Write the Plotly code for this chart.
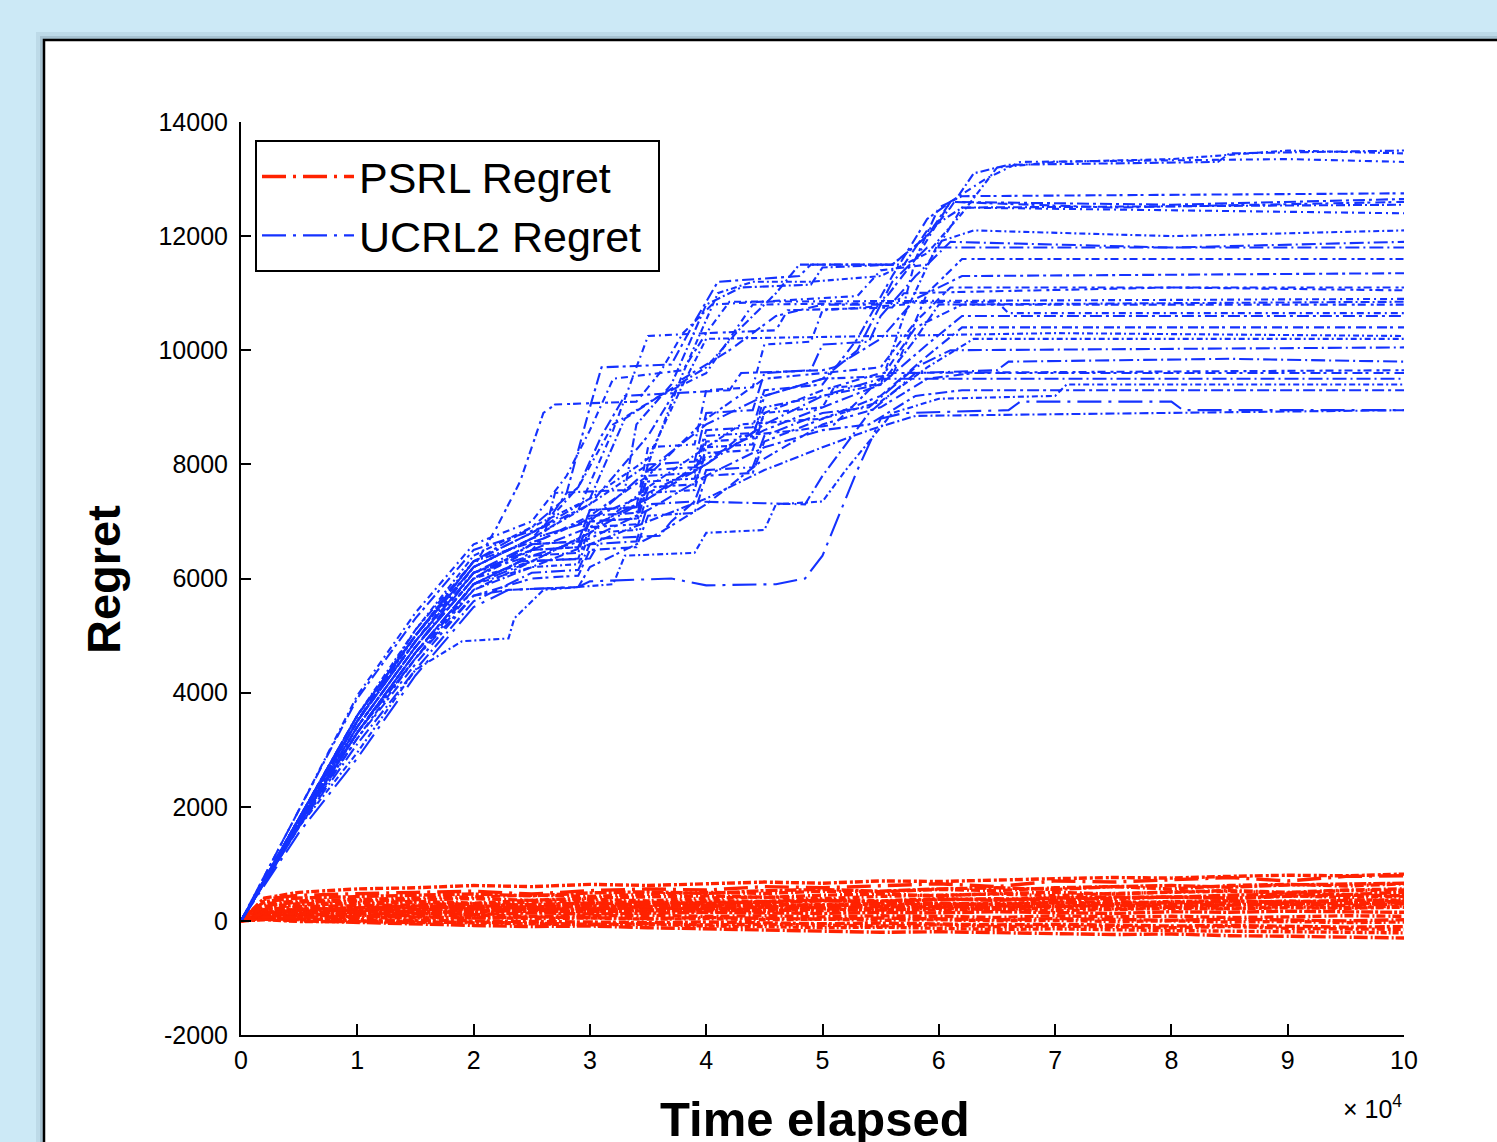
import plotly.graph_objects as go

# ---------------- data (time in units of 10^4 steps, regret) ----------------
X_TICKS = [0, 1, 2, 3, 4, 5, 6, 7, 8, 9, 10]
Y_TICKS = [-2000, 0, 2000, 4000, 6000, 8000, 10000, 12000, 14000]

PSRL_T = [0, 0.2, 0.5, 1, 1.5, 2, 2.5, 3, 3.5, 4, 4.5, 5, 5.5, 6, 6.5, 7, 7.5, 8, 8.5, 9, 9.5, 10]
PSRL_R01 = [0, 380, 450, 480, 500, 520, 470, 530, 560, 540, 600, 580, 620, 650, 600, 700, 680, 720, 760, 700, 780, 790]
PSRL_R02 = [0, 300, 350, 380, 400, 420, 450, 430, 470, 500, 480, 520, 510, 550, 530, 580, 600, 560, 620, 640, 610, 650]
PSRL_R03 = [0, 250, 300, 320, 340, 310, 360, 380, 350, 400, 420, 390, 430, 450, 470, 440, 480, 500, 520, 490, 530, 540]
PSRL_R04 = [0, 200, 250, 260, 280, 300, 270, 310, 330, 300, 340, 360, 330, 370, 390, 360, 400, 420, 390, 430, 450, 440]
PSRL_R05 = [0, 180, 200, 220, 240, 230, 250, 260, 240, 280, 270, 290, 300, 280, 310, 330, 300, 340, 350, 320, 360, 370]
PSRL_R06 = [0, 150, 170, 180, 190, 210, 200, 220, 230, 210, 240, 230, 250, 240, 260, 250, 270, 260, 280, 290, 270, 300]
PSRL_R07 = [0, 130, 140, 150, 160, 150, 170, 160, 180, 170, 190, 180, 200, 190, 210, 180, 200, 220, 210, 230, 220, 240]
PSRL_R08 = [0, 100, 110, 120, 130, 110, 140, 120, 130, 150, 140, 130, 150, 140, 160, 150, 130, 160, 150, 170, 160, 150]
PSRL_R09 = [0, 80, 90, 100, 90, 100, 80, 90, 100, 80, 90, 70, 90, 80, 60, 90, 70, 80, 60, 70, 90, 80]
PSRL_R10 = [0, 60, 70, 60, 50, 60, 40, 50, 30, 40, 20, 30, 10, 20, 0, 10, -10, 0, -20, -10, -30, -20]
PSRL_R11 = [0, 40, 30, 20, 10, 0, -10, -20, -30, -20, -40, -50, -40, -60, -70, -60, -80, -90, -80, -100, -110, -100]
PSRL_R12 = [0, 50, 20, 0, -20, -40, -50, -70, -60, -90, -100, -120, -110, -130, -150, -140, -160, -170, -180, -190, -200, -210]
PSRL_R13 = [0, 30, 0, -30, -50, -80, -100, -90, -120, -140, -160, -180, -200, -190, -210, -220, -240, -230, -260, -270, -280, -300]
PSRL_R14 = [0, 400, 500, 560, 580, 620, 600, 640, 620, 650, 680, 660, 700, 690, 720, 740, 760, 750, 780, 800, 790, 820]
PSRL_R15 = [0, 120, 200, 230, 260, 250, 290, 310, 280, 330, 320, 350, 340, 380, 360, 400, 420, 410, 450, 470, 460, 500]
PSRL_R16 = [0, 90, 150, 170, 160, 180, 170, 200, 190, 220, 200, 230, 220, 250, 230, 270, 260, 290, 280, 310, 300, 320]
PSRL_R17 = [0, 220, 280, 300, 320, 290, 330, 350, 320, 360, 340, 380, 350, 390, 370, 410, 380, 420, 400, 440, 410, 430]
PSRL_R18 = [0, 160, 210, 200, 230, 250, 220, 260, 280, 250, 290, 270, 300, 310, 290, 320, 340, 310, 350, 330, 360, 350]
PSRL_R19 = [0, 110, 130, 160, 140, 170, 190, 160, 180, 200, 170, 210, 190, 220, 200, 230, 210, 240, 220, 250, 230, 260]
PSRL_R20 = [0, 70, 60, 80, 70, 50, 70, 60, 40, 60, 50, 30, 50, 40, 20, 40, 30, 10, 30, 20, 0, 20]
PSRL_R21 = [0, 20, -10, -10, -30, -20, -40, -60, -50, -70, -60, -80, -90, -70, -100, -90, -110, -120, -100, -130, -140, -150]
PSRL_R22 = [0, 340, 400, 430, 450, 470, 440, 490, 510, 480, 530, 550, 520, 560, 580, 550, 600, 620, 590, 630, 650, 660]
PSRL_R23 = [0, 270, 330, 350, 370, 390, 360, 400, 420, 440, 410, 450, 470, 440, 480, 500, 470, 510, 530, 500, 540, 560]
PSRL_R24 = [0, 140, 180, 210, 190, 220, 240, 210, 250, 270, 240, 280, 260, 300, 280, 320, 290, 330, 310, 350, 320, 340]

UCRL2_R01 = [(0, 0), (0.5, 1550), (1, 2850), (1.5, 4300), (2, 5500), (2.3, 5800), (2.9, 5850), (3.0, 5950), (3.7, 6000), (4.0, 5880), (4.6, 5900), (4.85, 6000), (5.0, 6400), (5.3, 7900), (5.5, 8800), (5.7, 8900), (6.6, 8950), (6.7, 9100), (8, 9100), (8.1, 8950), (10, 8950)]
UCRL2_R02 = [(0, 0), (0.5, 1650), (1, 2950), (1.5, 4400), (1.9, 4900), (2.3, 4950), (2.35, 5300), (2.6, 5800), (3.2, 5900), (3.3, 6400), (3.9, 6450), (4.0, 6800), (4.5, 6850), (4.6, 7300), (5.0, 7350), (5.2, 7900), (5.6, 8900), (6, 9150), (7, 9200), (7.1, 9400), (10, 9400)]
UCRL2_R03 = [(0, 0), (0.5, 1750), (1, 3300), (1.5, 4700), (2, 5900), (2.4, 6300), (3, 6350), (3.1, 6700), (3.6, 6750), (3.7, 7000), (3.9, 7350), (4.85, 7300), (5.0, 7800), (5.4, 8900), (5.8, 9600), (6.5, 9650), (6.6, 9800), (8.5, 9850), (10, 9800)]
UCRL2_R04 = [(0, 0), (0.5, 1800), (1, 3600), (1.5, 5000), (2, 6200), (2.2, 6900), (2.4, 7700), (2.6, 8900), (2.7, 9050), (3.4, 9100), (3.6, 9600), (3.8, 9650), (4, 10300), (4.6, 10350), (4.7, 10700), (5.6, 10750), (5.7, 11000), (8, 11100), (10, 11050)]
UCRL2_R05 = [(0, 0), (0.5, 1950), (1, 3900), (1.5, 5300), (2, 6500), (2.6, 6900), (2.8, 7500), (3.0, 9000), (3.1, 9700), (3.7, 9750), (3.9, 10500), (4.1, 11200), (4.8, 11300), (4.9, 11500), (5.6, 11500), (5.9, 12000), (6.1, 12600), (8, 12550), (10, 12650)]
UCRL2_R06 = [(0, 0), (0.5, 1800), (1, 3500), (1.5, 5100), (2, 6300), (2.6, 6700), (2.7, 7500), (3.3, 7550), (3.4, 8700), (3.7, 9400), (4.0, 10800), (4.3, 11100), (4.9, 11150), (5.0, 11450), (5.6, 11500), (5.9, 12000), (6.1, 12500), (6.3, 13100), (6.6, 13250), (8.4, 13300), (8.5, 13450), (10, 13500)]
UCRL2_R07 = [(0, 0), (0.5, 1700), (1, 3400), (1.5, 4800), (2, 6000), (2.5, 6600), (2.9, 6650), (3, 7200), (3.4, 7250), (3.5, 8300), (3.9, 8350), (4, 9300), (4.4, 9350), (4.5, 10100), (4.9, 10150), (5, 10700), (5.7, 10800), (5.8, 11600), (6.1, 12600), (6.4, 13000), (6.7, 13300), (9, 13350), (10, 13300)]
UCRL2_R08 = [(0, 0), (0.5, 1800), (1, 3500), (1.5, 4900), (2, 6100), (2.5, 6500), (2.9, 6550), (3, 7000), (3.4, 7050), (3.5, 7900), (3.9, 7950), (4, 8600), (4.4, 8650), (4.5, 9300), (5, 9400), (5.3, 10200), (5.6, 11300), (5.9, 12300), (6.1, 12600), (7.5, 12500), (10, 12600)]
UCRL2_R09 = [(0, 0), (0.5, 1700), (1, 3300), (1.5, 4700), (2, 5900), (2.5, 6200), (2.9, 6250), (3, 6800), (3.4, 6850), (3.5, 7500), (3.9, 7550), (4, 8300), (4.4, 8350), (4.5, 8900), (5, 9000), (5.1, 9350), (5.5, 9400), (5.7, 10600), (6.0, 11900), (6.3, 12100), (8, 12000), (10, 12100)]
UCRL2_R10 = [(0, 0), (0.5, 1750), (1, 3400), (1.5, 4800), (2, 6100), (2.5, 6600), (2.9, 6650), (3, 7200), (3.4, 7250), (3.5, 8000), (3.9, 8050), (4, 8900), (4.4, 8950), (4.5, 9600), (4.9, 9650), (5, 10100), (5.4, 10150), (5.5, 10600), (5.8, 11300), (6.1, 11900), (8, 11800), (10, 11900)]
UCRL2_R11 = [(0, 0), (0.5, 1650), (1, 3200), (1.5, 4600), (2, 5800), (2.5, 6300), (2.9, 6350), (3, 6900), (3.4, 6950), (3.5, 7700), (3.9, 7750), (4, 8400), (4.4, 8450), (4.5, 9200), (5, 9500), (5.6, 9550), (5.9, 11000), (6.2, 11600), (10, 11600)]
UCRL2_R12 = [(0, 0), (0.5, 1800), (1, 3600), (1.5, 5000), (2, 6300), (2.5, 6900), (2.9, 7600), (3.1, 8500), (3.3, 9200), (4.2, 9300), (4.3, 9600), (5.0, 9650), (5.1, 9700), (5.5, 10200), (5.8, 10900), (6.2, 11300), (10, 11350)]
UCRL2_R13 = [(0, 0), (0.5, 1700), (1, 3300), (1.5, 4600), (2, 5900), (2.5, 6400), (2.9, 6450), (3, 7100), (3.4, 7150), (3.5, 7800), (3.9, 7850), (4, 8500), (4.4, 8550), (4.5, 9000), (5, 9200), (5.5, 9400), (5.8, 10200), (6, 10800), (10, 10850)]
UCRL2_R14 = [(0, 0), (0.5, 1750), (1, 3500), (1.5, 4900), (2, 6200), (2.5, 6700), (2.9, 7600), (3.2, 8700), (3.6, 9200), (4, 9600), (4.4, 10800), (6.5, 10850), (6.6, 10650), (10, 10650)]
UCRL2_R15 = [(0, 0), (0.5, 1700), (1, 3200), (1.5, 4500), (2, 5700), (2.5, 6000), (2.9, 6050), (3, 6500), (3.4, 6550), (3.5, 7100), (3.9, 7150), (4, 7800), (4.4, 7850), (4.5, 8400), (5, 8800), (5.5, 9200), (5.9, 9900), (6.2, 10400), (10, 10400)]
UCRL2_R16 = [(0, 0), (0.5, 1800), (1, 3600), (1.5, 5100), (2, 6400), (2.5, 6900), (3, 7400), (3.5, 8100), (3.8, 9400), (4.0, 10200), (7, 10300), (10, 10250)]
UCRL2_R17 = [(0, 0), (0.5, 1650), (1, 3100), (1.5, 4400), (2, 5600), (2.5, 6100), (2.9, 6150), (3, 6600), (3.4, 6650), (3.5, 7300), (3.9, 7350), (4, 7900), (4.4, 7950), (4.5, 8500), (5, 8900), (5.4, 9000), (5.8, 9700), (6.1, 10000), (10, 10050)]
UCRL2_R18 = [(0, 0), (0.5, 1700), (1, 3400), (1.5, 4800), (2, 6000), (2.5, 6500), (2.9, 6550), (3, 7000), (3.4, 7050), (3.5, 7600), (3.9, 7650), (4, 8200), (4.4, 8250), (4.5, 8900), (5, 9300), (5.5, 9600), (10, 9650)]
UCRL2_R19 = [(0, 0), (0.5, 1750), (1, 3500), (1.5, 4900), (2, 6100), (2.5, 6400), (3, 6700), (3.5, 7200), (4, 7800), (4.5, 8300), (5, 8600), (5.4, 8700), (5.8, 9200), (6.2, 9300), (10, 9300)]
UCRL2_R20 = [(0, 0), (0.5, 1700), (1, 3300), (1.5, 4700), (2, 5800), (2.5, 6200), (3, 6600), (3.5, 7000), (4, 7400), (4.5, 7900), (5, 8300), (5.4, 8600), (5.8, 8850), (10, 8950)]
UCRL2_R21 = [(0, 0), (0.5, 1950), (1, 3950), (1.5, 5400), (2, 6600), (2.5, 7000), (2.8, 7800), (3.0, 8600), (3.2, 9500), (3.6, 9600), (3.8, 10300), (4.05, 10800), (5.3, 10950), (5.5, 11400), (5.9, 11500), (6.2, 12500), (10, 12400)]
UCRL2_R22 = [(0, 0), (0.5, 1800), (1, 3600), (1.5, 5000), (2, 6300), (2.5, 6800), (3, 7300), (3.5, 8500), (3.8, 9500), (4.2, 10000), (4.6, 10600), (5.0, 10800), (5.5, 10800), (5.8, 11600), (6.0, 12500), (6.2, 12700), (10, 12750)]
UCRL2_R23 = [(0, 0), (0.5, 1750), (1, 3500), (1.5, 5000), (2, 6200), (2.5, 6700), (3, 7300), (3.5, 8000), (3.8, 9600), (4.1, 11000), (4.4, 11200), (4.9, 11200), (5.5, 11300), (5.9, 11700), (6.2, 12400), (6.5, 13200), (7, 13300), (8, 13350), (9, 13500), (10, 13450)]
UCRL2_R24 = [(0, 0), (0.5, 1700), (1, 3300), (1.5, 4700), (2, 5900), (2.5, 6300), (3, 6800), (3.5, 7400), (4, 8000), (4.5, 8700), (5, 9200), (5.5, 9500), (10, 9500)]
UCRL2_R25 = [(0, 0), (0.5, 1700), (1, 3400), (1.5, 4800), (2, 6000), (2.5, 6600), (3, 7100), (3.5, 7800), (4, 8800), (4.5, 9500), (5, 9600), (5.5, 9700), (5.8, 10500), (6.1, 11100), (10, 11100)]
UCRL2_R26 = [(0, 0), (0.5, 1800), (1, 3500), (1.5, 4900), (2, 6100), (2.5, 6500), (3, 6900), (3.5, 7400), (4, 8100), (4.5, 8600), (5, 9000), (5.5, 9400), (5.9, 10100), (6.2, 10600), (10, 10600)]
UCRL2_R27 = [(0, 0), (0.5, 1800), (1, 3500), (1.5, 5000), (2, 6300), (2.5, 6800), (3, 7400), (3.3, 8800), (3.6, 9200), (4.0, 9700), (4.3, 10400), (4.6, 11000), (4.8, 11500), (5.7, 11500), (5.9, 12100), (6.2, 12500), (10, 12550)]
UCRL2_R28 = [(0, 0), (0.5, 1750), (1, 3500), (1.5, 4900), (2, 6200), (2.5, 6700), (2.9, 7200), (3.2, 8600), (3.5, 10250), (4.0, 10300), (4.2, 10850), (10, 10900)]
UCRL2_R29 = [(0, 0), (0.5, 1650), (1, 3300), (1.5, 4600), (2, 5700), (2.3, 5800), (2.9, 5850), (3.0, 6200), (3.6, 6800), (4.0, 7300), (4.5, 8100), (5, 8700), (5.5, 9000), (5.9, 9500), (6.3, 9600), (10, 9600)]
UCRL2_R30 = [(0, 0), (0.5, 1750), (1, 3400), (1.5, 4800), (2, 6000), (2.5, 6300), (3, 6800), (3.5, 7600), (4, 8300), (4.3, 8700), (5, 8800), (5.5, 9100), (5.9, 9700), (6.3, 10200), (10, 10200)]
UCRL2_R31 = [(0, 0), (0.5, 1800), (1, 3600), (1.5, 5000), (2, 6200), (2.5, 6700), (3, 7000), (3.5, 7900), (4, 8700), (4.5, 9200), (5, 9500), (5.3, 10000), (5.6, 11200), (5.9, 11800), (10, 11800)]
UCRL2_R32 = [(0, 0), (0.5, 1700), (1, 3300), (1.5, 4700), (2, 5900), (2.4, 6300), (2.6, 6700), (3.4, 7400), (4.0, 8000), (4.3, 8500), (4.8, 8600), (5.1, 8700), (5.5, 9500), (5.8, 10400), (6.2, 10800), (10, 10800)]

PSRL_RUNS = [PSRL_R01, PSRL_R02, PSRL_R03, PSRL_R04, PSRL_R05, PSRL_R06, PSRL_R07, PSRL_R08,
             PSRL_R09, PSRL_R10, PSRL_R11, PSRL_R12, PSRL_R13, PSRL_R14, PSRL_R15, PSRL_R16,
             PSRL_R17, PSRL_R18, PSRL_R19, PSRL_R20, PSRL_R21, PSRL_R22, PSRL_R23, PSRL_R24]
UCRL2_RUNS = [UCRL2_R01, UCRL2_R02, UCRL2_R03, UCRL2_R04, UCRL2_R05, UCRL2_R06, UCRL2_R07, UCRL2_R08,
              UCRL2_R09, UCRL2_R10, UCRL2_R11, UCRL2_R12, UCRL2_R13, UCRL2_R14, UCRL2_R15, UCRL2_R16,
              UCRL2_R17, UCRL2_R18, UCRL2_R19, UCRL2_R20, UCRL2_R21, UCRL2_R22, UCRL2_R23, UCRL2_R24,
              UCRL2_R25, UCRL2_R26, UCRL2_R27, UCRL2_R28, UCRL2_R29, UCRL2_R30, UCRL2_R31, UCRL2_R32]

# ---------------- style ----------------
W, H = 1497, 1142
L, R, T, B = 241, 93, 122, 107
PW, PH = W - L - R, H - T - B
RED = "#ff2200"
BLUE = "#1432ff"
BG = "#cce9f6"
FONT = "Liberation Sans, Arial, sans-serif"
DASHES = ["12px,4px,3px,4px", "9px,3px,2px,3px", "7px,4px,2px,4px", "10px,3px,3px,5px",
          "6px,3px,2px,3px", "14px,4px,2px,4px", "8px,5px,3px,3px"]
RED_DASHES = ["12px,2px,3px,2px", "9px,3px,2px,2px", "7px,2px,2px,3px", "10px,2px,3px,3px",
              "6px,2px,2px,2px", "14px,3px,2px,2px", "8px,3px,3px,2px"]
LEGEND_DASH = "24px,7px,3px,7px"


def px_x(px):
    return (px - L) / PW


def px_y(py):
    return (H - B - py) / PH


fig = go.Figure()

for i, run in enumerate(PSRL_RUNS):
    fig.add_trace(go.Scatter(
        x=PSRL_T, y=run, mode="lines", name="PSRL Regret\u00a0",
        legendgroup="psrl", showlegend=(i == 0), hoverinfo="skip",
        line=dict(color=RED, width=3.4, dash=RED_DASHES[i % len(RED_DASHES)] if i else LEGEND_DASH)))

for i, run in enumerate(UCRL2_RUNS):
    fig.add_trace(go.Scatter(
        x=[p[0] for p in run], y=[p[1] for p in run], mode="lines", name="UCRL2 Regret\u00a0",
        legendgroup="ucrl2", showlegend=(i == 0), hoverinfo="skip",
        line=dict(color=BLUE, width=2.1, dash=DASHES[(i + 3) % len(DASHES)] if i else LEGEND_DASH)))

shapes = [
    dict(type="rect", xref="paper", yref="paper", layer="below",
         x0=px_x(36), x1=px_x(1520), y0=px_y(1160), y1=px_y(32),
         fillcolor="rgba(60,90,110,0.10)", line=dict(width=0)),
    dict(type="rect", xref="paper", yref="paper", layer="below",
         x0=px_x(40), x1=px_x(1520), y0=px_y(1160), y1=px_y(36),
         fillcolor="rgba(40,60,80,0.15)", line=dict(width=0)),
    dict(type="rect", xref="paper", yref="paper", layer="below",
         x0=px_x(44), x1=px_x(1520), y0=px_y(1160), y1=px_y(40),
         fillcolor="white", line=dict(color="black", width=2.5)),
]

annotations = [
    dict(text="Regret", xref="paper", yref="paper", x=px_x(103), y=px_y(580),
         showarrow=False, textangle=-90, xanchor="center", yanchor="middle",
         font=dict(family=FONT, size=47, color="black", weight="bold")),
    dict(text="Time elapsed", xref="paper", yref="paper", x=px_x(815), y=px_y(1090),
         showarrow=False, xanchor="center", yanchor="top",
         font=dict(family=FONT, size=49, color="black", weight="bold")),
    dict(text="\u00d7 10<sup>4</sup>", xref="paper", yref="paper", x=px_x(1404), y=px_y(1107),
         showarrow=False, xanchor="right", yanchor="middle",
         font=dict(family=FONT, size=25, color="black")),
]

fig.update_layout(
    width=W, height=H,
    margin=dict(l=L, r=R, t=T, b=B, pad=0),
    paper_bgcolor=BG,
    plot_bgcolor="white",
    shapes=shapes,
    annotations=annotations,
    showlegend=True,
    legend=dict(x=px_x(255), y=px_y(140), xanchor="left", yanchor="top",
                bgcolor="white", bordercolor="black", borderwidth=2,
                font=dict(family=FONT, size=43, color="black"),
                itemwidth=92, tracegroupgap=0),
    xaxis=dict(range=[0, 10], tickvals=X_TICKS, ticktext=[str(v) for v in X_TICKS],
               showline=True, linecolor="black", linewidth=2,
               ticks="inside", ticklen=11, tickwidth=2, tickcolor="black",
               showgrid=False, zeroline=False, ticklabelstandoff=2,
               tickfont=dict(family=FONT, size=25, color="black")),
    yaxis=dict(range=[-2000, 14000], tickvals=Y_TICKS, ticktext=[str(v) for v in Y_TICKS],
               showline=True, linecolor="black", linewidth=2,
               ticks="inside", ticklen=10, tickwidth=2, tickcolor="black",
               showgrid=False, zeroline=False, ticklabelstandoff=6,
               tickfont=dict(family=FONT, size=25, color="black")),
)

fig.write_html("out.html", config={"displayModeBar": False},
               post_script="document.body.style.margin='0';document.body.style.background='%s';" % BG)
